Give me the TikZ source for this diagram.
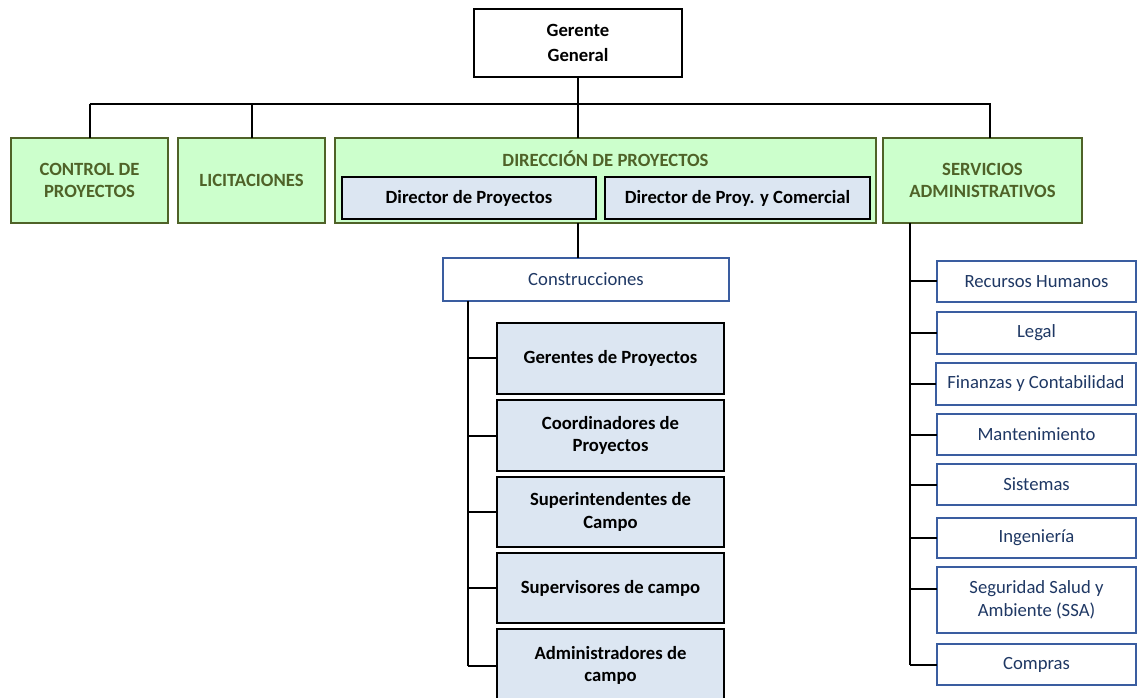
\documentclass[tikz,border=0pt]{standalone}
\usepackage{fontspec}
\setmainfont{Carlito}
\usetikzlibrary{calc}

\definecolor{grfill}{HTML}{CCFFCC}
\definecolor{grline}{HTML}{4F6228}
\definecolor{bfill}{HTML}{DCE6F2}
\definecolor{bline}{HTML}{3A5DA0}
\definecolor{btext}{HTML}{1F3864}

% box from its corners: name, x1, y1, x2, y2, style, text
\newcommand\orgbox[7]{%
  \node[#6, minimum width={(#4-#2)*0.75pt}, minimum height={(#5-#3)*0.75pt}]
    (#1) at ({(#2+#4)/2},{(#3+#5)/2}) {#7};}

\tikzset{
  every node/.style={inner sep=0pt, outer sep=0pt, align=center,
    font=\fontsize{14}{17}\selectfont},
  topbox/.style={draw=black, fill=white, line width=1.5pt,
    font=\fontsize{14}{19}\selectfont\bfseries},
  unitbox/.style={draw=grline, fill=grfill, line width=1.5pt, text=grline,
    font=\fontsize{14}{17}\selectfont\bfseries},
  unittitle/.style={text=grline, font=\fontsize{14}{17}\selectfont\bfseries},
  rolebox/.style={draw=black, fill=bfill, line width=1.5pt,
    font=\fontsize{14}{17}\selectfont\bfseries},
  deptbox/.style={draw=bline, fill=white, line width=1.5pt, text=btext},
  link/.style={draw=black, line width=1.5pt}
}

\begin{document}
\begin{tikzpicture}[x=0.75pt, y=-0.75pt]
\useasboundingbox (0,0) rectangle (1138,698);
\clip (0,0) rectangle (1138,698);

% top level
\orgbox{gg}{474}{9}{682}{77}{topbox}{Gerente\\General}

% second level
\orgbox{ctrl}{11}{138}{168}{223}{unitbox}{CONTROL DE\\PROYECTOS}
\orgbox{lic}{178}{138}{325}{223}{unitbox}{LICITACIONES}
\orgbox{dir}{335}{138}{876}{223}{unitbox}{}
\node[unittitle] (dirtitle) at (605.5,159) {DIRECCIÓN DE PROYECTOS};
\orgbox{dp1}{342}{177}{596}{219}{rolebox}{Director de Proyectos}
\orgbox{dp2}{605}{177}{870}{219}{rolebox}{Director de Proy. y Comercial}
\orgbox{serv}{883}{138}{1082}{223}{unitbox}{SERVICIOS\\ADMINISTRATIVOS}

% construction branch
\orgbox{cons}{443}{258}{729}{301}{deptbox}{Construcciones}
\orgbox{g1}{497}{323}{724}{394}{rolebox}{Gerentes de Proyectos}
\orgbox{g2}{497}{400}{724}{471}{rolebox}{Coordinadores de\\Proyectos}
\orgbox{g3}{497}{477}{724}{547}{rolebox}{Superintendentes de\\Campo}
\orgbox{g4}{497}{553}{724}{623}{rolebox}{Supervisores de campo}
\orgbox{g5}{497}{629}{724}{702}{rolebox}{Administradores de\\campo}

% administrative services
\orgbox{r1}{937}{261}{1136}{302}{deptbox}{Recursos Humanos}
\orgbox{r2}{937}{312}{1136}{354}{deptbox}{Legal}
\orgbox{r3}{936}{363}{1136}{405}{deptbox}{Finanzas y Contabilidad}
\orgbox{r4}{937}{414}{1136}{455}{deptbox}{Mantenimiento}
\orgbox{r5}{937}{464}{1136}{505}{deptbox}{Sistemas}
\orgbox{r6}{937}{518}{1136}{558}{deptbox}{Ingeniería}
\orgbox{r7}{937}{567}{1136}{633}{deptbox}{Seguridad Salud y\\Ambiente (SSA)}
\orgbox{r8}{937}{644}{1136}{685}{deptbox}{Compras}

% connectors
\coordinate (bus) at (0,104);
\coordinate (servjoin) at (990,104);
\coordinate (cspine) at (468,0);
\coordinate (rspine) at (910,0);

\draw[link] (gg.south) -- (gg.south |- dir.north);
\draw[link] (ctrl.north |- bus) -- (servjoin) -- (servjoin |- serv.north);
\draw[link] (ctrl.north |- bus) -- (ctrl.north);
\draw[link] (lic.north |- bus) -- (lic.north);
\draw[link] (gg.south |- dir.south) -- (gg.south |- cons.north);

\draw[link] (cspine |- cons.south) -- (cspine |- g5.west);
\foreach \n in {g1,g2,g3,g4,g5}
  \draw[link] (cspine |- \n.west) -- (\n.west);

\draw[link] (rspine |- serv.south) -- (rspine |- r8.west);
\foreach \n in {r1,r2,r3,r4,r5,r6,r8}
  \draw[link] (rspine |- \n.west) -- (\n.west);
\draw[link] (rspine |- {$(r7.west)+(0,-11)$}) -- ($(r7.west)+(0,-11)$);
\end{tikzpicture}
\end{document}
